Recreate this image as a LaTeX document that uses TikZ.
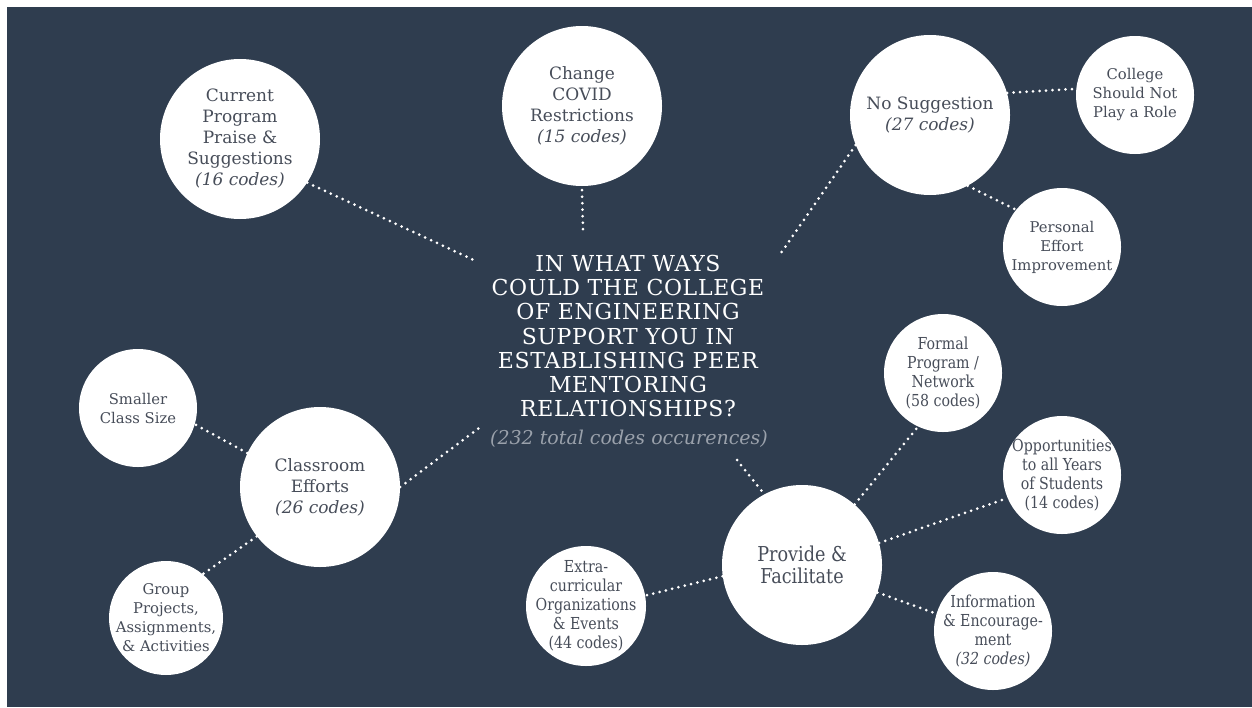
\documentclass[tikz,border=0pt]{standalone}
\usepackage{fontspec}
\setmainfont{DejaVu Serif}
\newfontfamily\narrowserif[FakeStretch=0.86]{DejaVu Serif}
\newfontfamily\widecaps[LetterSpace=3]{DejaVu Serif}
\definecolor{MentorNavy}{HTML}{2F3D4F}
\definecolor{MentorInk}{HTML}{474D59}
\definecolor{MentorGrey}{HTML}{9AA1AB}
\tikzset{
  bigdot/.style={circle,fill=white,inner sep=-15pt,minimum size=160pt,
    align=center,text=MentorInk,font=\fontsize{17}{21}\selectfont},
  smalldot/.style={circle,fill=white,inner sep=-15pt,minimum size=118pt,
    align=center,text=MentorInk,font=\fontsize{14.8}{19}\selectfont},
  narrowdot/.style={smalldot,font=\narrowserif\fontsize{16.5}{19}\selectfont},
  link/.style={white,line width=3pt,line cap=round,dash pattern=on 0pt off 6.5pt}
}

\begin{document}
\begin{tikzpicture}[x=1pt,y=-1pt]
        \useasboundingbox (0,0) rectangle (1252,707);
        \fill[MentorNavy] (7,7) rectangle (1252,707);

        % question in the middle
        \node[text=white,align=center,
          font=\widecaps\fontsize{22}{24.3}\selectfont] (question) at (628,336)
          {IN WHAT WAYS\\COULD THE COLLEGE\\OF ENGINEERING\\SUPPORT YOU IN\\
           ESTABLISHING PEER\\MENTORING\\RELATIONSHIPS?};
        \node[text=MentorGrey,font=\itshape\fontsize{19}{21}\selectfont]
          (total) at (629,439) {(232 total codes occurences)};

        \coordinate (q-nw) at (478,262);
        \coordinate (q-n) at (583,230);
        \coordinate (q-ne) at (781,253);
        \coordinate (q-w) at (483,425);
        \coordinate (q-se) at (737,460);

        % main themes
        \node[bigdot] (current) at (240,139)
          {Current\\Program\\Praise \&\\Suggestions\\\textit{(16 codes)}};
        \node[bigdot] (covid) at (582,106)
          {Change\\COVID\\Restrictions\\\textit{(15 codes)}};
        \node[bigdot] (nosugg) at (930,115)
          {No Suggestion\\\textit{(27 codes)}};
        \node[bigdot] (classroom) at (320,487)
          {Classroom\\Efforts\\\textit{(26 codes)}};
        \node[bigdot,font=\narrowserif\fontsize{20.5}{22}\selectfont] (provide) at (802,565)
          {Provide \&\\Facilitate};

        % sub themes
        \node[smalldot] (college) at (1135,95) {College\\Should Not\\Play a Role};
        \node[smalldot] (personal) at (1062,247) {Personal\\Effort\\Improvement};
        \node[smalldot] (smaller) at (138,408) {Smaller\\Class Size};
        \node[smalldot,minimum size=114pt] (group) at (166,618)
          {Group\\Projects,\\Assignments,\\\& Activities};
        \node[narrowdot] (formal) at (943,373)
          {Formal\\Program /\\Network\\(58 codes)};
        \node[narrowdot] (chances) at (1062,475)
          {Opportunities\\to all Years\\of Students\\(14 codes)};
        \node[narrowdot,minimum size=120pt] (extra) at (586,606)
          {Extra-\\curricular\\Organizations\\\& Events\\(44 codes)};
        \node[narrowdot] (info) at (993,631)
          {Information\\\& Encourage-\\ment\\\textit{(32 codes)}};

        % dotted links
        \draw[link] (current.-33) -- (q-nw);
        \draw[link] ([yshift=-4pt]covid.south) -- (q-n);
        \draw[link] (nosugg.202) -- (q-ne);
        \draw[link] (nosugg.16) -- (college.174);
        \draw[link] (nosugg.-62) -- (personal.141);
        \draw[link] (classroom.east) -- (q-w);
        \draw[link] (classroom.155) -- (smaller.-16);
        \draw[link] (classroom.218) -- (group.50);
        \draw[link] (q-se) -- (provide.118);
        \draw[link] (provide.49) -- (formal.-115);
        \draw[link] (provide.16) -- (chances.203);
        \draw[link] (provide.188) -- (extra.10);
        \draw[link] (provide.-20) -- (info.163);
\end{tikzpicture}
\end{document}
